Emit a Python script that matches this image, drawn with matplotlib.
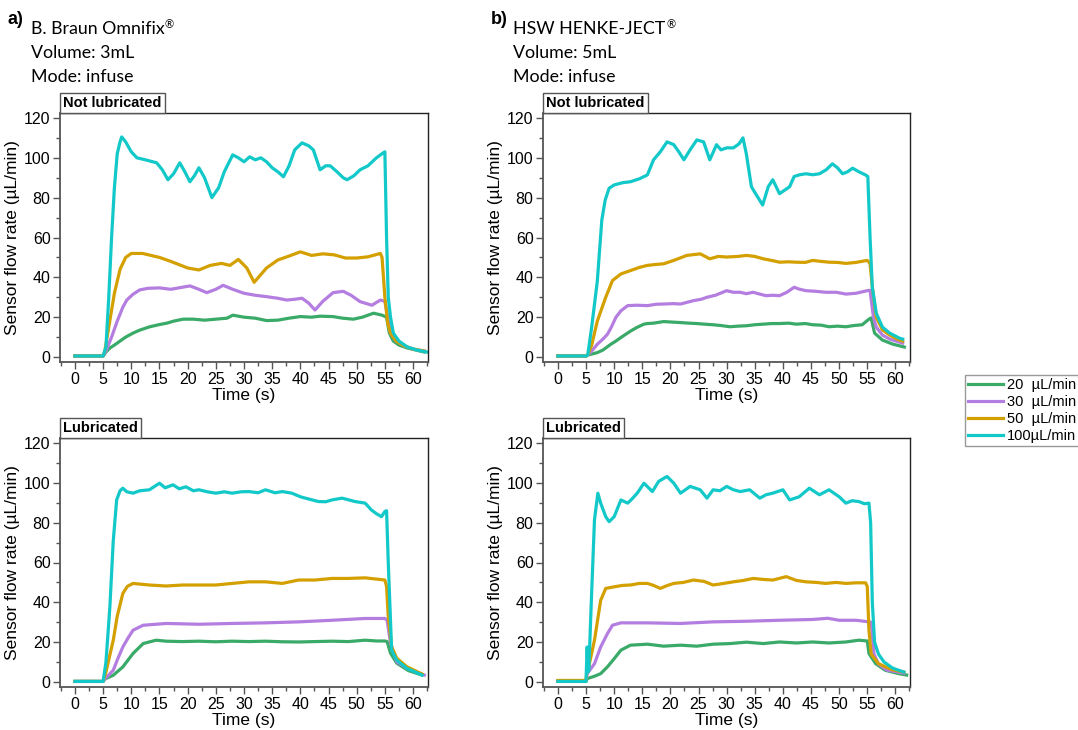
import matplotlib
matplotlib.use("Agg")
import matplotlib.pyplot as plt
from matplotlib.ticker import MultipleLocator
from matplotlib.lines import Line2D

# -------------------------
# Data (time in s, flow in uL/min)
# -------------------------
# a) B. Braun Omnifix, not lubricated
a_t20 = [0, 5, 5.5, 6.2, 7, 8, 9, 10.3, 11.5, 13.3, 15, 16.3, 17.5, 19.2, 21, 23, 25, 27, 28, 30,
         32, 34, 36, 38, 40, 42, 43.5, 45.8, 47.5, 49.4, 51, 53, 54.5, 55.3, 55.8, 56.5, 57.5, 59, 60.5, 62]
a_v20 = [0.5, 0.5, 2.5, 4.5, 6, 8, 10, 12, 13.5, 15.2, 16.3, 17, 18, 19, 19, 18.5, 19, 19.5, 21, 20,
         19.5, 18.3, 18.5, 19.5, 20.3, 20, 20.5, 20.3, 19.5, 19, 20, 22, 21, 20, 12, 8, 6, 4.5, 3.5, 2.5]
a_t30 = [0, 5, 5.5, 6.5, 7.5, 8.5, 9.2, 10.3, 11.5, 13, 15, 17, 19, 20.4, 22, 23.4, 25, 26.3, 28, 30,
         32, 34, 36, 37.6, 39, 40.3, 41.5, 42.6, 44, 45.8, 47.6, 49, 50.6, 52.7, 54.2, 55, 55.5, 56, 57,
         58.5, 60, 62]
a_v30 = [0.5, 0.5, 3, 10, 18, 25, 28.6, 31.5, 33.7, 34.5, 34.7, 34, 35, 35.7, 34, 32.3, 34, 36, 34, 32,
         31, 30.3, 29.5, 28.6, 29, 29.5, 27, 23.6, 28, 32.3, 33, 31, 27.8, 26, 28.6, 28, 20, 12, 8,
         5.5, 4, 3]
a_t50 = [0, 5, 5.3, 6, 7, 8, 9, 10, 12, 15, 17, 20, 22, 24, 26, 27.5, 29, 30.5, 31.8, 34, 36, 38, 40,
         42, 44, 46, 48, 50, 52, 54.2, 54.5, 55, 55.5, 56, 57, 58.5, 60, 62]
a_v50 = [0.5, 0.5, 3, 15, 32, 44, 50, 52, 52, 50, 48, 44.7, 43.7, 46, 47, 46, 49, 44.7, 37.5, 44.7,
         48.7, 50.7, 52.8, 51, 51.8, 51.3, 49.7, 49.7, 50.3, 52, 50, 30, 17, 12, 8, 5.5, 4, 3]
a_t100 = [0, 5, 5.5, 6, 6.5, 7, 7.5, 8, 8.3, 9, 10, 11, 12.5, 14.5, 15.5, 16.5, 17.5, 18.6, 19.5,
          20.4, 21.2, 22, 23, 24.3, 25.5, 26.5, 28, 29, 30, 31, 32, 33, 34, 35, 36, 37, 38, 39, 40.3,
          41.5, 42.3, 43.5, 44.5, 45.3, 46.5, 47.6, 48.3, 49.5, 50.6, 52, 53.5, 54.7, 55, 55.3, 55.6,
          56, 56.5, 57.5, 59, 60.7, 62.5]
a_v100 = [0.5, 0.5, 5, 30, 60, 85, 102, 108, 110.5, 108, 103, 100, 99, 97.5, 94, 89, 92, 97.5, 93,
          88, 91, 95, 90, 80, 85, 93, 101.5, 100, 98, 100.5, 99, 100, 98, 95, 93, 90.5, 96, 104, 107.5,
          106, 104, 94, 96, 96, 93, 90, 89, 91, 94, 96, 100, 102.5, 103, 60, 30,
          20, 12, 8, 5, 3.5, 2.5]

# b) HSW HENKE-JECT, not lubricated
b_t20 = [0, 5, 5.3, 7, 8, 9.4, 10.3, 11.2, 12.9, 14, 15.3, 15.9, 17, 18.8, 20.5, 21.8, 23.3, 24.7, 26,
         27.6, 29, 30.6, 32, 33.5, 35, 36.5, 38, 39.4, 41, 42.4, 44, 45.3, 46.8, 48.2, 49.7, 51.2, 52.6,
         54.1, 55.3, 55.7, 56.3, 57.7, 59.5, 61.6]
b_v20 = [0.5, 0.5, 1, 2.2, 3.5, 6.4, 8, 9.8, 13, 14.8, 16.5, 16.8, 17, 17.8, 17.5, 17.3, 17, 16.8, 16.5,
         16.2, 15.8, 15.2, 15.5, 15.7, 16.2, 16.5, 16.8, 16.8, 17, 16.5, 16.8, 16.2, 16, 15.2, 15.5, 15.2,
         15.8, 16.2, 19, 19.6, 12, 8.5, 6.5, 5]
b_t30 = [0, 5, 5.3, 6, 7, 8, 8.8, 9.5, 10.3, 11.2, 12.4, 14, 15.9, 17.5, 18.8, 20.5, 21.8, 23, 24.1,
         25.5, 26.5, 28, 30, 31.2, 32.4, 33.5, 34.7, 36, 37, 38.2, 39.4, 40.7, 42, 43, 44.1, 45.8, 47.6,
         49.5, 51.2, 53, 55, 55.5, 56.1, 56.6, 57.7, 59, 60.7, 61.3]
b_v30 = [0.5, 0.5, 1, 3, 6.4, 9, 11.4, 15, 19.9, 23.2, 25.8, 26, 25.8, 26.5, 26.6, 26.8, 26.6, 27.5,
         28.3, 29, 30, 31, 33.3, 32.5, 32.5, 31.8, 32.5, 31.5, 30.8, 31, 30.8, 32.5, 35, 34, 33.3, 33,
         32.5, 32.5, 31.6, 32, 33.3, 33.5, 20, 15, 11, 9, 7.5, 7]
b_t50 = [0, 5, 5.3, 6, 7, 8.5, 9.7, 11.2, 12.9, 14.5, 15.9, 17.5, 18.8, 20.6, 22.9, 25.3, 27, 28.5, 30,
         32, 33.5, 35, 36.5, 38, 39.4, 41, 42.4, 44, 45.3, 46.8, 48.2, 49.7, 51.2, 53, 55, 55.5, 55.9,
         56.6, 57.7, 59, 60.7, 61.3]
b_v50 = [0.5, 0.5, 1, 6, 18, 30, 38.4, 41.7, 43.4, 45, 46, 46.5, 46.8, 48.5, 51, 51.8, 49.3, 50.5,
         50.2, 50.5, 51, 50.5, 49.3, 48.5, 47.6, 47.8, 47.6, 47.5, 48.5, 48, 47.6, 47.5, 47, 47.5, 48.5,
         47, 35, 20, 13.6, 11, 8.5, 8]
b_t100 = [0, 5, 5.3, 6, 7, 7.8, 8.4, 9.1, 10, 11.5, 12.9, 14.5, 15.9, 17, 18.2, 19.4, 20.6, 21.5, 22.4,
          23.5, 24.7, 25.9, 27, 28.2, 29, 30, 31.2, 32.2, 32.9, 33.5, 34.4, 35.3, 36.4, 37.4, 38.2, 39.4,
          41.2, 42, 43, 44.1, 45.3, 46.5, 47.7, 48.8, 49.7, 50.6, 51.5, 52.4, 53.5, 54.7, 55.1, 55.5,
          55.9, 56.6, 57.7, 59, 60.7, 61.3]
b_v100 = [0.5, 0.5, 1, 15, 38, 68.7, 78.8, 84.7, 86.4, 87.5, 88, 89.5, 91.4, 99, 103, 108, 106.6, 103,
          99, 104, 109, 108, 99, 106.6, 104, 105, 105, 107, 110, 102, 85.5, 81.3, 76.3, 85.5, 89, 82,
          85.5, 90.6, 91.5, 92, 91.5, 92, 94, 97, 95, 92, 93, 94.8, 93, 91.4, 90.6, 60,
          35, 22, 15, 12, 9.5, 9]

# c) B. Braun Omnifix, lubricated
c_t20 = [0, 5, 5.3, 6.8, 8.5, 10.3, 12.1, 14.4, 16.2, 19, 22, 25, 27.9, 30.9, 33.8, 36.8, 39.7, 42.6,
         45.6, 48.5, 51.5, 53.5, 55, 55.4, 56, 57.1, 59.2, 61.6]
c_v20 = [0.3, 0.3, 1.5, 3.4, 7.6, 14.3, 19.3, 21, 20.5, 20.3, 20.5, 20.2, 20.5, 20.3, 20.5, 20.2, 20.1,
         20.3, 20.5, 20.3, 21, 20.6, 20.6, 20.3, 14.5, 9.5, 5.7, 3.5]
c_t30 = [0, 5, 5.3, 6.8, 7.5, 8.5, 9.4, 10.3, 12.1, 16.2, 22, 27.9, 33.8, 39.7, 45.6, 51.5, 55, 55.4,
         56, 57.1, 58.9, 62]
c_v30 = [0.3, 0.3, 1.5, 5.9, 11, 17.6, 22, 26, 28.5, 29.4, 29, 29.4, 29.7, 30.2, 31, 31.9, 31.9, 31,
         19.5, 10.2, 7, 3.5]
c_t50 = [0, 5, 5.5, 6.8, 7.5, 8.5, 9.3, 10.3, 13.2, 16.2, 19.1, 22, 25, 27.9, 30.9, 33.8, 36.8, 39.7,
         42.6, 45.6, 48.5, 51.5, 55, 55.3, 55.6, 56.2, 57.1, 58.9, 61.6]
c_v50 = [0.3, 0.3, 5, 21, 33, 44.5, 48, 49.5, 48.7, 48.2, 48.7, 48.7, 48.7, 49.5, 50.3, 50.3, 49.5,
         51.2, 51.2, 52, 52, 52.3, 51.2, 48, 32.8, 17.7, 12, 7.7, 4]
c_t100 = [0, 5, 5.5, 6.2, 6.8, 7.4, 8, 8.5, 9.2, 10.3, 11.5, 13.2, 15, 16, 17.4, 18.5, 19.7, 21, 22,
          23.5, 25, 26.5, 27.9, 29.5, 30.9, 32.5, 33.8, 35.5, 36.8, 38.5, 40, 40.9, 42, 43.2, 44.5, 45.6,
          47.4, 48.5, 49.7, 51.5, 52.6, 53.5, 54.4, 55, 55.3, 55.6, 56.2, 57.1, 58.9, 61.6]
c_v100 = [0.3, 0.3, 10, 37.8, 71, 91.4, 96, 97.3, 95.5, 94.8, 96, 96.5, 99.8, 97.5, 99, 97, 98, 96,
          96.5, 95.5, 94.8, 95.5, 94.8, 95.5, 95.6, 95, 96.5, 95, 95.6, 94.8, 93, 92.3, 91.5, 90.6, 90.5,
          91.4, 92.3, 91.5, 90.6, 89.8, 86.4, 84.5, 83, 85.6, 86, 60, 16, 11, 6.9, 3.5]

# d) HSW HENKE-JECT, lubricated
d_t20 = [0, 5, 5.2, 6.5, 7.6, 8.8, 10, 11.2, 12.9, 15.9, 18.8, 21.8, 24.7, 27.6, 30.6, 33.5, 36.5,
         39.4, 42.4, 45.3, 48.2, 51.2, 53.5, 55, 55.3, 56.5, 58.2, 60.6, 62]
d_v20 = [0.3, 0.3, 1.7, 2.9, 4.2, 7.6, 11.7, 16, 18.5, 19, 18, 18.5, 18, 19, 19.3, 20, 19.3, 20.1,
         19.6, 20.1, 19.6, 20.1, 21, 20.6, 14.3, 9.2, 5.9, 4.2, 3.5]
d_t30 = [0, 5, 5.2, 6.5, 7.6, 8.8, 9.7, 11.2, 15.9, 21.8, 27.6, 33.5, 39.4, 45.3, 48, 50, 53, 55.3,
         55.7, 56.2, 57, 58.5, 61.5]
d_v30 = [0.5, 0.5, 4.2, 9.2, 17.6, 24.3, 28.5, 29.7, 29.7, 29.4, 30.2, 30.5, 31, 31.4, 32, 31, 31,
         30.2, 30, 14, 9, 6, 4.5]
d_t50 = [0, 5, 5.15, 5.5, 6.5, 7.6, 8.5, 10, 11.5, 12.9, 14.5, 15.9, 17, 18.2, 19.5, 20.6, 22.3, 24.1,
         26, 27.6, 29.5, 31.2, 33, 34.7, 36.5, 38.2, 40.6, 42.4, 44.1, 46, 47.6, 49.5, 51.2, 53, 54.7,
         55, 55.3, 55.7, 57, 59.4, 61.5]
d_v50 = [0.8, 0.8, 5.9, 8, 21, 41, 47, 47.8, 48.5, 48.7, 49.5, 49.5, 48.5, 47, 48.5, 49.5, 50, 51.2,
         50.5, 48.7, 49.5, 50.3, 51, 52, 51.5, 51.2, 52.9, 51, 50.3, 50, 49.5, 50, 49.5, 49.8, 49.8,
         48, 26, 14, 9.2, 6.2, 5]
d_t100 = [0, 5, 5.1, 5.2, 5.35, 5.5, 5.9, 6.5, 7.1, 7.6, 8.5, 9.1, 10, 11.2, 12.4, 13.2, 14.1, 15.3,
          16.8, 17.9, 19.4, 20.6, 21.8, 23.5, 25.3, 26.5, 27.6, 28.8, 30, 31.2, 32.4, 34.1, 35.9, 37,
          38.2, 40, 41.2, 42.9, 44.7, 46.5, 48.2, 50, 51.2, 52.3, 53.5, 54.5, 55.3, 55.6, 55.9, 56.3,
          57, 58, 59.5, 61.5]
d_v100 = [0.3, 0.3, 10, 17.6, 5, 6, 37.8, 81.4, 94.8, 89.8, 83, 80.5, 83, 91.4, 89.8, 92, 94.8, 99.8,
          95.6, 100.7, 103.2, 99.8, 94.8, 98.2, 96.5, 92.3, 96.5, 96, 98.2, 96.5, 95.6, 96.5, 92.3, 94,
          94.8, 96.5, 91.4, 93, 97.3, 94, 96.5, 93, 89.8, 91, 90.6, 89.5, 89.8, 80, 40, 20,
          14, 10, 7, 5]

labels = ["20  µL/min", "30  µL/min", "50  µL/min", "100µL/min"]
colors = ["#3aaa68", "#b47de0", "#d3a000", "#12c8c8"]

panels = [
    ([(a_t20, a_v20), (a_t30, a_v30), (a_t50, a_v50), (a_t100, a_v100)], "Not lubricated"),
    ([(b_t20, b_v20), (b_t30, b_v30), (b_t50, b_v50), (b_t100, b_v100)], "Not lubricated"),
    ([(c_t20, c_v20), (c_t30, c_v30), (c_t50, c_v50), (c_t100, c_v100)], "Lubricated"),
    ([(d_t20, d_v20), (d_t30, d_v30), (d_t50, d_v50), (d_t100, d_v100)], "Lubricated"),
]

# -------------------------
# Figure
# -------------------------
plt.rcParams["font.family"] = ["Liberation Sans", "DejaVu Sans"]

fig = plt.figure(figsize=(10.78, 7.30), dpi=100)

W, H = 1078, 730
boxes = [
    (60.3, 113, 427.7, 362),
    (543.3, 113, 910, 362),
    (60.3, 438, 427.7, 687),
    (543.3, 438, 910, 687),
]

for i, ((series, tag), (x0, y0, x1, y1)) in enumerate(zip(panels, boxes)):
    ax = fig.add_axes([x0 / W, 1 - y1 / H, (x1 - x0) / W, (y1 - y0) / H])
    for (t, v), c in zip(series, colors):
        ax.plot(t, v, color=c, lw=2.3, solid_joinstyle="round")

    ax.set_xlim(-2.6, 62.6)
    ax.set_ylim(-2.5, 122.5)
    ax.xaxis.set_major_locator(MultipleLocator(5))
    ax.xaxis.set_minor_locator(MultipleLocator(2.5))
    ax.yaxis.set_major_locator(MultipleLocator(20))
    ax.yaxis.set_minor_locator(MultipleLocator(10))
    ax.tick_params(which="major", direction="out", length=5, width=1,
                   color="#555555", labelsize=11.5, pad=2)
    ax.tick_params(which="minor", direction="out", length=3, width=1, color="#555555")
    for s in ["top", "right"]:
        ax.spines[s].set_color("#222222")
        ax.spines[s].set_linewidth(1.0)
    for s in ["left", "bottom"]:
        ax.spines[s].set_color("#555555")
        ax.spines[s].set_linewidth(1.3)

    ax.set_xlabel("Time (s)", fontsize=12.5, labelpad=1)
    ax.set_ylabel("Sensor flow rate (µL/min)", fontsize=12.5, labelpad=3)

    ax.annotate(tag, xy=(0, 1), xycoords="axes fraction",
                xytext=(2.2, 2.2), textcoords="offset points",
                ha="left", va="bottom", fontsize=10.5, fontweight="bold",
                bbox=dict(boxstyle="square,pad=0.2", fc="white", ec="#555555", lw=1))

# headers
headers = [
    (8, 30.7, "a)", ["B. Braun Omnifix", "Volume: 3mL", "Mode: infuse"]),
    (491, 513.3, "b)", ["HSW HENKE-JECT", "Volume: 5mL", "Mode: infuse"]),
]
fig.canvas.draw()
renderer = fig.canvas.get_renderer()
for lx, tx, letter, lines in headers:
    fig.text(lx / W, 1 - 24 / H, letter, fontsize=13, fontweight="bold",
             ha="left", va="baseline")
    for k, line in enumerate(lines):
        txt = fig.text(tx / W, 1 - (34.5 + 24 * k) / H, line, fontsize=12.8,
                       family=["Lato", "DejaVu Sans"], ha="left", va="baseline")
        if k == 0:
            # small raised registered sign
            bb = txt.get_window_extent(renderer)
            fig.text((bb.x1 + 0.5) / W, 1 - (34.5 - 6) / H, "®", fontsize=8,
                     family=["Lato", "DejaVu Sans"], ha="left", va="baseline")

# legend
handles = [Line2D([0], [0], color=c, lw=2.3) for c in colors]
fig.legend(handles, labels, loc="upper left",
           bbox_to_anchor=(965 / W, 1 - 375 / H), borderaxespad=0,
           fontsize=10.5, frameon=True, fancybox=False, edgecolor="#999999",
           framealpha=1, borderpad=0.2, handlelength=2.4, handletextpad=0.3,
           labelspacing=0.2)

fig.savefig("out.png", dpi=100)
